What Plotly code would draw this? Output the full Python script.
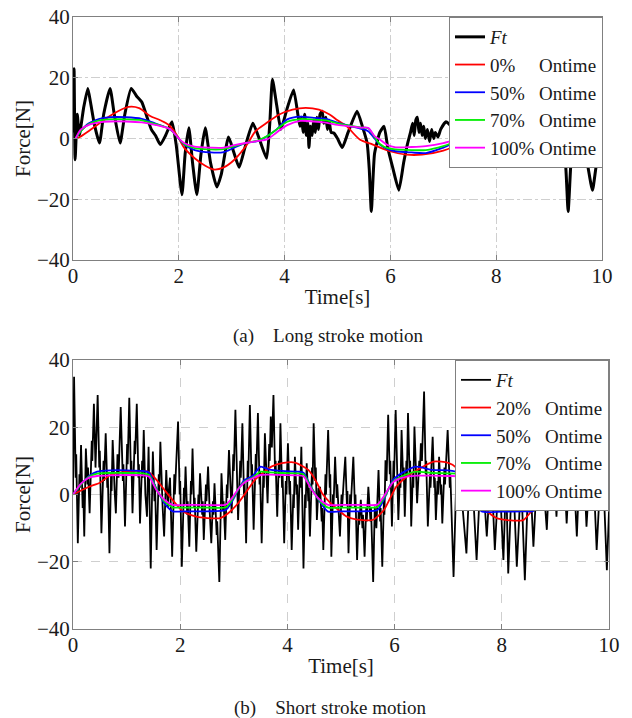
import plotly.graph_objects as go

# ---------------- (a) Long stroke motion ----------------
FT_A = [(0.00, 2), (0.02, 23), (0.04, -7), (0.08, 8), (0.12, 1), (0.20, 10), (0.28, 16.5), (0.33, 12),
        (0.40, 5), (0.50, -1.5), (0.58, 8), (0.70, 16.5), (0.78, 8), (0.89, -1.5), (0.98, 8), (1.10, 16.5),
        (1.20, 14), (1.30, 12), (1.40, 7), (1.48, 3), (1.56, 1), (1.65, -2), (1.75, 1), (1.87, 5.5),
        (1.95, -2), (2.06, -18.5), (2.12, -5), (2.19, 3.5), (2.26, -8), (2.34, -18.5), (2.42, -5), (2.50, 3.5),
        (2.60, -8), (2.72, -16), (2.80, -12), (2.94, 0.5), (3.03, -4), (3.14, -9.5), (3.25, -3), (3.40, 5),
        (3.52, 0), (3.66, -6.5), (3.72, 5), (3.77, 19.5), (3.85, 11), (3.93, 3), (4.05, 10), (4.17, 16),
        (4.25, 8), (4.29, 4), (4.32, 7), (4.35, 2), (4.38, 8), (4.41, 1), (4.44, 5), (4.46, -3), (4.49, 4),
        (4.52, 1), (4.55, 6), (4.58, 2), (4.61, 7), (4.64, 3), (4.67, 8), (4.71, 9), (4.74, 5), (4.78, 7),
        (4.81, 3), (4.84, 6), (4.88, 2), (4.93, 1.8), (5.00, 0), (5.09, -3), (5.20, 2), (5.37, 9), (5.47, 4),
        (5.56, -1.5), (5.60, -10), (5.64, -24), (5.70, -5), (5.80, 2), (5.88, 4), (5.95, -3), (6.05, -10),
        (6.16, -17), (6.25, -8), (6.32, -2), (6.38, 2), (6.42, 5), (6.45, 1), (6.48, 6), (6.51, 7),
        (6.54, 2), (6.57, 5), (6.60, 1), (6.63, 4), (6.66, 0), (6.70, 3), (6.74, -1), (6.78, 3), (6.82, 0),
        (6.85, 2), (6.90, 0.5), (6.95, 3), (7.05, 5.5), (7.15, 4), (7.25, -2), (7.36, -7),
        (7.45, 0), (7.60, 6), (7.80, 2), (8.00, 8), (8.20, 3), (8.40, 6), (8.60, 0), (8.80, 4),
        (9.00, 2), (9.20, 0), (9.30, -6), (9.36, -24), (9.42, -6), (9.50, 3), (9.60, 0), (9.70, -6),
        (9.82, -17), (9.90, -8), (9.95, -6), (10.0, -6)]

RED_A_T = [0.05, 0.13, 0.3, 0.5, 0.75, 1.05, 1.25, 1.45, 1.65, 1.8, 1.95, 2.1, 2.3, 2.5, 2.66, 2.85, 3.05,
           3.29, 3.45, 3.65, 3.9, 4.15, 4.4, 4.65, 4.85, 5.0, 5.17, 5.42, 5.67, 5.99, 6.3, 6.6, 7.0, 7.4,
           7.8, 8.2, 8.6, 9.0, 9.4, 9.8, 10]
RED_A_V = [0, 0.5, 2.5, 5, 8, 10.4, 10, 7.5, 6, 4.6, 1.5, -3, -6.5, -9, -10.2, -9.5, -7, -2, 2.4, 5, 7.9,
           9.5, 10.1, 9.5, 7.9, 6, 4.1, -0.3, -2, -4.2, -5.3, -5.3, -4, -1, 3, 6, 7, 5, 1, -5, -7.3]

SM_A_T = [0.05, 0.15, 0.3, 0.5, 0.7, 1.0, 1.3, 1.55, 1.84, 1.95, 2.1, 2.3, 2.6, 2.85, 3.05, 3.29, 3.5, 3.67,
          3.85, 4.05, 4.3, 4.55, 4.78, 5.0, 5.24, 5.45, 5.58, 5.7, 5.8, 5.95, 6.1, 6.4, 6.67, 7.0, 7.4, 7.8,
          8.2, 8.6, 9.0, 9.4, 9.8, 10]
BLUE_A_V = [0, 2.5, 5, 6.5, 7, 7, 6.5, 5, 3, 1, -2, -3.8, -4.6, -4.5, -3, -1.4, -0.8, 0.8, 3, 6.3, 7.2, 6.8,
            6.5, 5.2, 4.1, 3.2, 2.4, 0, -2, -3.5, -4.2, -4.6, -4.8, -3, 0, 3, 5, 4, 1, -2, -4, -4.5]
GREEN_A_V = [0, 2.5, 4.8, 6, 6.3, 6.3, 6, 4.8, 3, 1, -1.8, -3.2, -3.6, -3.5, -2.5, -1.4, -0.6, 0.8, 3, 5.5,
             6.4, 6.2, 6, 5, 4.2, 3.6, 3.4, 0.5, -1.8, -3.2, -3.6, -3.8, -3.8, -2.5, 0, 2.7, 4.5, 3.6, 1,
             -1.8, -3.6, -4]
MAG_A_V = [0, 3, 4.5, 5.3, 5.6, 5.6, 5.3, 4.5, 3, 1, -1.5, -2.7, -3, -3, -2.2, -1.4, -0.8, -0.3, 2, 4.4,
           5.8, 5.6, 5.2, 4.5, 4, 3.6, 3.5, 0.8, -0.3, -2.2, -2.9, -2.8, -2.5, -1.5, 0.5, 2.5, 4, 3.2, 1,
           -1.5, -3, -3.5]

# ---------------- (b) Short stroke motion ----------------
FT_B = [(0.00, 0), (0.02, 35), (0.05, 5), (0.06, 12), (0.09, -14.5), (0.12, 6), (0.13, 2), (0.15, 14.7),
        (0.18, -4), (0.19, 2), (0.21, -12.5), (0.24, 13.7), (0.27, 3), (0.28, 8), (0.31, -5.6), (0.35, 16),
        (0.36, 10), (0.39, 27), (0.42, 8), (0.46, 29.6), (0.49, 8), (0.50, 13), (0.53, -11.5), (0.57, 10),
        (0.58, 4), (0.61, 18.2), (0.64, 2), (0.65, 6), (0.68, -17.5), (0.71, 6), (0.72, 1), (0.74, 16.2),
        (0.78, 0), (0.80, -5.6), (0.83, 12), (0.85, 5), (0.89, 26), (0.93, 4), (0.94, 9), (0.97, -9.5),
        (1.01, 15), (1.02, 9), (1.05, 28.8), (1.08, 6), (1.09, 10), (1.11, -5.6), (1.15, 16), (1.16, 12),
        (1.19, 27), (1.22, 5), (1.23, 9), (1.25, -8.6), (1.29, 10), (1.30, 5), (1.32, 19.2), (1.35, 0),
        (1.38, -6.6), (1.41, 14.2), (1.45, -22), (1.49, 12.8), (1.52, -2), (1.53, 3), (1.56, -16.5),
        (1.60, 6), (1.61, 1), (1.63, 15.7), (1.67, -3), (1.70, -12.5), (1.74, 7.3), (1.77, -4), (1.78, 0),
        (1.81, 5), (1.85, -18.5), (1.89, 6), (1.90, 0), (1.96, 21.7), (1.99, 0), (2.00, 4), (2.03, -21.5),
        (2.07, 2), (2.08, -3), (2.10, 8.3), (2.13, -6), (2.14, -2), (2.17, -15.5), (2.20, 4), (2.21, 0),
        (2.23, 13.7), (2.26, -4), (2.27, -1), (2.30, -17), (2.34, 0), (2.35, -4), (2.37, 6.3), (2.41, -6),
        (2.42, -2), (2.44, -13.5), (2.48, 3), (2.49, -2), (2.52, 8.3), (2.55, -5), (2.58, -14.5), (2.61, -2),
        (2.62, -6), (2.64, 3.3), (2.68, -12), (2.69, -8), (2.73, -26), (2.77, 6.3), (2.80, -5), (2.81, -2),
        (2.84, -13.5), (2.87, 3), (2.88, -1), (2.91, 13.2), (2.94, 0), (2.96, -5.6), (2.99, 12), (3.00, 7),
        (3.03, 25.2), (3.06, 4), (3.08, -7.6), (3.12, 10), (3.13, 5), (3.16, 21.2), (3.19, 0), (3.20, 4),
        (3.23, -14.5), (3.26, 10), (3.27, 5), (3.30, 26.6), (3.33, 5), (3.34, 9), (3.37, -10.5), (3.41, 12),
        (3.42, 7), (3.45, 24.2), (3.48, 3), (3.49, 7), (3.52, -14.5), (3.55, 6), (3.56, 2), (3.58, 18.2),
        (3.61, 4), (3.63, -2.6), (3.66, 15), (3.67, 10), (3.69, 23.2), (3.71, 14), (3.74, 29.6), (3.77, 6),
        (3.78, 10), (3.81, -6.6), (3.84, 10), (3.85, 5), (3.87, 21.2), (3.90, 2), (3.91, 6), (3.94, -14.5),
        (3.97, 4), (3.98, 0), (4.01, 15.2), (4.04, 0), (4.05, 4), (4.08, -16.5), (4.11, 0), (4.12, -4),
        (4.14, 11.2), (4.17, 0), (4.18, 3), (4.20, -10.5), (4.23, 6), (4.24, 2), (4.26, 14.2), (4.30, -22),
        (4.33, 0), (4.34, -4), (4.36, 9.3), (4.39, -2), (4.40, 2), (4.42, -12.5), (4.46, 8), (4.47, 3),
        (4.49, 21.2), (4.52, 4), (4.53, 8), (4.55, -7.6), (4.58, 2), (4.59, -2), (4.61, 2.3), (4.64, -8),
        (4.65, -4), (4.67, -16.5), (4.71, 6), (4.72, 0), (4.76, 19.2), (4.79, 2), (4.80, 6), (4.82, -18.5),
        (4.85, 0), (4.86, -4), (4.89, 11.2), (4.92, -1), (4.93, 3), (4.98, -12.5), (5.01, 0), (5.02, -4),
        (5.05, 4), (5.08, 11.2), (5.11, -3), (5.12, 1), (5.14, -17.5), (5.17, 0), (5.18, -4), (5.20, 2),
        (5.23, 11.2), (5.26, -4), (5.27, 0), (5.30, -19.5), (5.33, -5), (5.34, -9), (5.37, -1.6), (5.40, -10),
        (5.41, -6), (5.44, -18.5), (5.47, -4), (5.48, -8), (5.51, 2.3), (5.55, -8), (5.56, -4), (5.60, -26),
        (5.63, -3.6), (5.66, -10), (5.67, -6), (5.70, 7.3), (5.73, -8), (5.74, -4), (5.77, -21.5), (5.80, -2),
        (5.81, -6), (5.83, 10.2), (5.85, 4), (5.88, 23.7), (5.91, 6), (5.92, 10), (5.95, -9.5), (5.98, 10),
        (5.99, 5), (6.02, 25.1), (6.05, 6), (6.07, -7.6), (6.10, 6), (6.11, 2), (6.13, 19.2), (6.16, 4),
        (6.17, 8), (6.19, -6.6), (6.22, 10), (6.23, 6), (6.25, 24.2), (6.28, 6), (6.29, 10), (6.31, -9.5),
        (6.34, 6), (6.35, 2), (6.37, 20.2), (6.40, 6), (6.42, -2.6), (6.46, 10), (6.47, 6), (6.49, 15.2),
        (6.51, 10), (6.55, 30.6), (6.58, 6), (6.59, 10), (6.62, -9.5), (6.66, 6), (6.67, 2), (6.71, 17.2),
        (6.74, 2), (6.75, 5), (6.77, -7.6), (6.80, 4), (6.81, 0), (6.83, 11.2), (6.86, 0), (6.87, 3),
        (6.89, -8.6), (6.93, 8), (6.94, 3), (6.99, 19.2), (7.03, 2), (7.04, 6), (7.10, -24.5), (7.17, 15),
        (7.25, 0), (7.34, -17.5), (7.42, 14), (7.48, -5), (7.53, -19.5), (7.62, 12), (7.72, -12.5),
        (7.80, 10), (7.87, -16.5), (7.95, 8), (8.03, -19.5), (8.08, 6), (8.12, -23.5), (8.20, 10),
        (8.28, -21.5), (8.36, 5), (8.43, -25.5), (8.51, 12), (8.59, -15.5), (8.70, 20), (8.84, -10.5),
        (8.93, 22), (9.02, -6.6), (9.11, 25), (9.21, -8.6), (9.30, 20), (9.40, -12.5), (9.49, 24),
        (9.58, -9.6), (9.68, 18), (9.77, -16.5), (9.87, 15), (9.96, -22.5), (10.0, -5)]

RED_B_T = [0, 0.3, 0.5, 0.7, 1.0, 1.25, 1.4, 1.55, 1.7, 1.85, 2.05, 2.3, 2.5, 2.75, 2.9, 3.08, 3.2, 3.39,
           3.55, 3.7, 3.9, 4.14, 4.39, 4.55, 4.65, 4.8, 4.95, 5.1, 5.3, 5.6, 5.8, 5.92, 6.03, 6.2, 6.42,
           6.73, 7.0, 7.15, 7.35, 7.55, 7.7, 7.9, 8.1, 8.4, 8.6, 8.75, 8.9, 9.1, 9.4, 9.7, 10]
RED_B_V = [0, 2.3, 3.5, 5.8, 6.8, 7, 6.8, 4.5, 1.5, -1.5, -5, -6.6, -7, -7, -5.5, -2.6, 0, 4.3, 6.5, 8.3,
           9.3, 9.5, 7.3, 3.5, 0.3, -2.5, -4.6, -6.5, -7.5, -7.5, -4.6, -1, 2.3, 5, 7.3, 9.8, 9.4, 8, 3,
           -2, -4.6, -7, -7.6, -7.6, -4, -1.3, 2, 5, 8, 9.5, 9]

SM_B_T = [0, 0.15, 0.3, 0.45, 0.7, 1.0, 1.3, 1.42, 1.55, 1.7, 1.86, 2.1, 2.5, 2.85, 2.97, 3.1, 3.2, 3.35,
          3.5, 3.65, 3.9, 4.2, 4.3, 4.45, 4.6, 4.76, 5.0, 5.4, 5.68, 5.8, 5.97, 6.15, 6.4, 6.7, 7.0, 7.2,
          7.35, 7.5, 7.62, 8.0, 8.4, 8.58, 8.72, 8.9, 9.1, 9.5, 10]
BLUE_B_V = [0, 3, 5.5, 6.8, 7.2, 7.2, 7.0, 6.5, 2, -2.5, -5, -5, -5, -4.6, -2, 2, 4.3, 5.5, 8.3, 7.5, 7,
            6.8, 6.5, 2, -2, -5.1, -5, -5, -4.6, -1.5, 4.3, 6.5, 8.3, 7.3, 7.2, 6.5, 3, -1, -5, -5.1, -5,
            -5, -2, 3, 6, 7, 7]
GREEN_B_V = [0, 3, 5.3, 6.2, 6.4, 6.4, 6.3, 5.8, 1.8, -2, -3.8, -3.9, -3.9, -3.8, -1.5, 2, 3.8, 5, 6.8,
             6.6, 6.4, 6.3, 6.0, 1.8, -1.8, -3.9, -3.9, -3.9, -3.7, -1, 3.8, 5.5, 6.8, 6.4, 6.3, 6, 2.5,
             -0.8, -3.8, -3.9, -3.9, -3.8, -1.5, 2.5, 5, 6.3, 6.3]
MAG_B_V = [0, 3.2, 5, 5.5, 5.7, 5.8, 5.7, 5.3, 1.5, -1.5, -3.1, -3.1, -3.1, -3.0, -1, 2, 3.6, 4.8, 5.8,
           5.9, 5.8, 5.7, 5.4, 1.5, -1.5, -3.1, -3.1, -3.1, -3.0, -0.5, 3.6, 5, 5.6, 5.6, 5.5, 5.3, 2,
           -0.5, -3, -3.1, -3.1, -3.0, -1, 2, 4.5, 5.6, 5.6]

NB = "\u00a0"
NAMES_A = ["<i>Ft</i>", "0%" + NB * 5 + "Ontime", "50%" + NB * 3 + "Ontime",
           "70%" + NB * 3 + "Ontime", "100%" + NB + "Ontime"]
NAMES_B = ["<i>Ft</i>", "20%" + NB * 3 + "Ontime", "50%" + NB * 3 + "Ontime",
           "70%" + NB * 3 + "Ontime", "100%" + NB + "Ontime"]
COLORS = ["#000000", "#ff0000", "#0000ff", "#00ee00", "#ff00ff"]
X_TICKS = [0, 2, 4, 6, 8, 10]
Y_TICKS = [-40, -20, 0, 20, 40]
CAPTION_A = "(a)" + NB * 4 + "Long stroke motion"
CAPTION_B = "(b)" + NB * 4 + "Short stroke motion"

FONT = "Liberation Serif"
W, H = 632, 718

fig = go.Figure()

# top panel
fig.add_trace(go.Scatter(x=[p[0] for p in FT_A], y=[p[1] for p in FT_A], mode="lines",
                         line=dict(color=COLORS[0], width=3, shape="spline", smoothing=0.5), name=NAMES_A[0],
                         xaxis="x", yaxis="y", legend="legend"))
for t, v, c, n in [(RED_A_T, RED_A_V, COLORS[1], NAMES_A[1]), (SM_A_T, BLUE_A_V, COLORS[2], NAMES_A[2]),
                   (SM_A_T, GREEN_A_V, COLORS[3], NAMES_A[3]), (SM_A_T, MAG_A_V, COLORS[4], NAMES_A[4])]:
    fig.add_trace(go.Scatter(x=t, y=v, mode="lines", line=dict(color=c, width=1.8, shape="spline", smoothing=0.8),
                             name=n, xaxis="x", yaxis="y", legend="legend"))

# bottom panel
fig.add_trace(go.Scatter(x=[p[0] for p in FT_B], y=[p[1] for p in FT_B], mode="lines",
                         line=dict(color=COLORS[0], width=1.8), name=NAMES_B[0],
                         xaxis="x2", yaxis="y2", legend="legend2"))
for t, v, c, n in [(RED_B_T, RED_B_V, COLORS[1], NAMES_B[1]), (SM_B_T, BLUE_B_V, COLORS[2], NAMES_B[2]),
                   (SM_B_T, GREEN_B_V, COLORS[3], NAMES_B[3]), (SM_B_T, MAG_B_V, COLORS[4], NAMES_B[4])]:
    fig.add_trace(go.Scatter(x=t, y=v, mode="lines", line=dict(color=c, width=1.8, shape="spline", smoothing=0.6),
                             name=n, xaxis="x2", yaxis="y2", legend="legend2"))

tickfont = dict(family=FONT, size=21, color="#1a1a1a")
common_x = dict(range=[0, 10], tickvals=X_TICKS, ticks="inside", ticklen=5, tickcolor="#808080",
                showline=True, linecolor="#808080", linewidth=1, mirror="ticks", showgrid=True,
                gridcolor="#cfcfcf", gridwidth=1, zeroline=False, tickfont=tickfont, automargin=False,
                ticklabelstandoff=-3,
                title=dict(text="Time[s]", font=dict(family=FONT, size=21, color="#1a1a1a"), standoff=2))
common_y = dict(range=[-40, 40], tickvals=Y_TICKS, ticks="inside", ticklen=5, tickcolor="#808080",
                showline=True, linecolor="#808080", linewidth=1, mirror="ticks", showgrid=True,
                gridcolor="#cfcfcf", gridwidth=1, zeroline=False, tickfont=tickfont, automargin=False,
                ticklabelstandoff=-2,
                title=dict(text="Force[N]", font=dict(family=FONT, size=21, color="#1a1a1a"), standoff=0))

legend_common = dict(font=dict(family=FONT, size=19, color="#1a1a1a"), bgcolor="white",
                     bordercolor="#808080", borderwidth=1, xanchor="right", yanchor="top",
                     tracegroupgap=0, itemwidth=30)

fig.update_layout(
    template="none",
    width=W, height=H, margin=dict(l=0, r=0, t=0, b=0, autoexpand=False),
    paper_bgcolor="white", plot_bgcolor="white", showlegend=True,
    xaxis=dict(domain=[73 / W, 602 / W], anchor="y", griddash="dashdot", **common_x),
    yaxis=dict(domain=[1 - 260 / H, 1 - 17 / H], anchor="x", griddash="dashdot", **common_y),
    xaxis2=dict(domain=[73 / W, 609 / W], anchor="y2", griddash="dash", **common_x),
    yaxis2=dict(domain=[1 - 629 / H, 1 - 360 / H], anchor="x2", griddash="dash", **common_y),
    legend=dict(x=603 / W, y=1 - 17 / H, **legend_common),
    legend2=dict(x=609 / W, y=1 - 360 / H, **legend_common),
    annotations=[
        dict(text=CAPTION_A, x=328 / W, y=1 - 336 / H, xref="paper", yref="paper", showarrow=False,
             font=dict(family=FONT, size=19, color="#1a1a1a"), xanchor="center", yanchor="middle"),
        dict(text=CAPTION_B, x=330 / W, y=1 - 708 / H, xref="paper", yref="paper", showarrow=False,
             font=dict(family=FONT, size=19, color="#1a1a1a"), xanchor="center", yanchor="middle"),
    ],
)

fig.write_html("out.html", config={"displayModeBar": False},
               post_script="document.body.style.margin='0';document.body.style.overflow='hidden';")
